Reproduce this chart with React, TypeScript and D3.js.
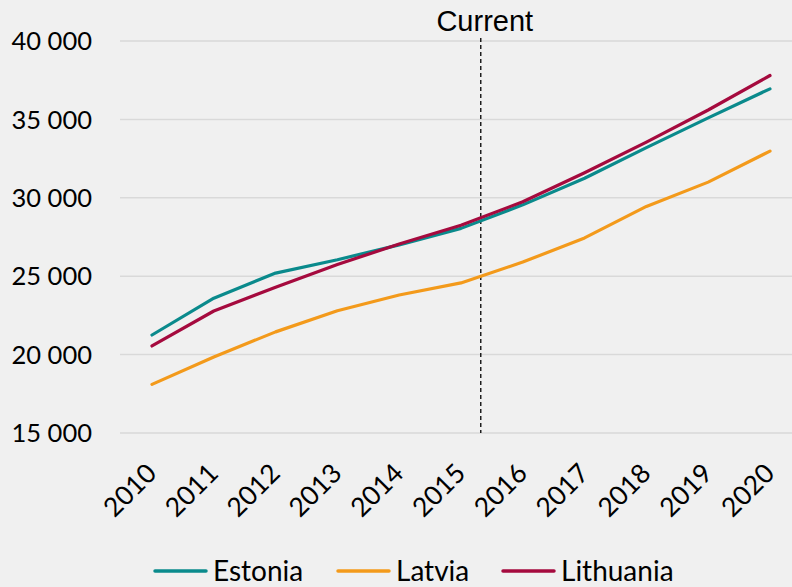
import React from "react";
import * as d3 from "d3";

const years = [2010, 2011, 2012, 2013, 2014, 2015, 2016, 2017, 2018, 2019, 2020];
const estonia = [21250, 23600, 25200, 26050, 27000, 28050, 29550, 31250, 33200, 35100, 36950];
const latvia = [18100, 19850, 21450, 22800, 23800, 24570, 25900, 27440, 29450, 31000, 32980];
const lithuania = [20550, 22780, 24300, 25750, 27050, 28250, 29750, 31600, 33550, 35600, 37800];
const yTicks = [15000, 20000, 25000, 30000, 35000, 40000];
const currentYear = 2015.32;
const currentLabel = "Current";

const seriesList = [
  { name: "Estonia", values: estonia, color: "#0a8a8c" },
  { name: "Latvia", values: latvia, color: "#f39a1b" },
  { name: "Lithuania", values: lithuania, color: "#a50a3e" },
];

const W = 792;
const H = 587;

export default function App() {
  const x = d3.scaleLinear().domain([2010, 2020]).range([152, 770]);
  const y = d3.scaleLinear().domain([15000, 40000]).range([433, 41]);
  const fmt = (v: number) => d3.format(",")(v).replace(/,/g, " ");
  const line = d3
    .line<number>()
    .x((_, i) => x(years[i]))
    .y((d) => y(d));
  const font = "Lato, 'Open Sans', sans-serif";
  const legendItems = [
    { x0: 155, tx: 213 },
    { x0: 338, tx: 396 },
    { x0: 503, tx: 561 },
  ];
  return (
    <svg
      width={W}
      height={H}
      style={{ position: "absolute", left: 0, top: 0, background: "#f0f0f0" }}
    >
      <rect x={0} y={0} width={W} height={H} fill="#f0f0f0" />
      {yTicks.map((t) => (
        <g key={t}>
          <line x1={120} x2={792} y1={y(t)} y2={y(t)} stroke="#d9d9d9" strokeWidth={1.5} />
          <text
            x={92}
            y={y(t)}
            dy="0.36em"
            textAnchor="end"
            fontFamily={font}
            fontSize={25.5}
            fill="#000"
          >
            {fmt(t)}
          </text>
        </g>
      ))}
      {years.map((yr) => (
        <text
          key={yr}
          transform={`translate(${x(yr) + 6},${475}) rotate(-45)`}
          textAnchor="end"
          fontFamily={font}
          fontSize={26.5}
          fill="#000"
        >
          {yr}
        </text>
      ))}
      <line
        x1={x(currentYear)}
        x2={x(currentYear)}
        y1={38}
        y2={433}
        stroke="#000"
        strokeWidth={1.3}
        strokeDasharray="4,3"
      />
      <text
        x={x(currentYear) + 4}
        y={31}
        textAnchor="middle"
        fontFamily="'Liberation Sans', Arial, sans-serif"
        fontSize={29}
        fill="#000"
      >
        {currentLabel}
      </text>
      {seriesList.map((s) => (
        <path
          key={s.name}
          d={line(s.values) || ""}
          fill="none"
          stroke={s.color}
          strokeWidth={3.2}
          strokeLinejoin="round"
          strokeLinecap="round"
        />
      ))}
      {seriesList.map((s, i) => (
        <g key={s.name}>
          <line
            x1={legendItems[i].x0}
            x2={legendItems[i].x0 + 51}
            y1={571}
            y2={571}
            stroke={s.color}
            strokeWidth={3.5}
            strokeLinecap="round"
          />
          <text
            x={legendItems[i].tx}
            y={571}
            dy="0.36em"
            fontFamily={font}
            fontSize={28}
            fill="#000"
          >
            {s.name}
          </text>
        </g>
      ))}
    </svg>
  );
}
